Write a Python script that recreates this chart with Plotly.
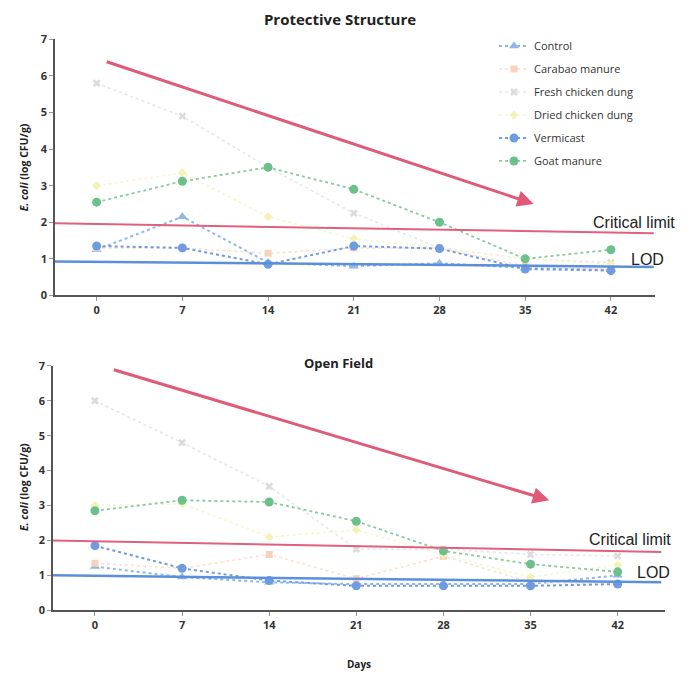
import plotly.graph_objects as go

days = [0, 7, 14, 21, 28, 35, 42]
series_names = ["Control", "Carabao manure", "Fresh chicken dung",
                "Dried chicken dung", "Vermicast", "Goat manure"]

# Protective Structure (top)
control_ps = [1.25, 2.15, 0.9, 0.8, 0.88, 0.75, 0.7]
carabao_ps = [1.3, 1.3, 1.15, 1.3, 1.3, 0.8, 0.7]
fresh_ps = [5.8, 4.9, 3.5, 2.25, 1.3, 1.0, 0.9]
dried_ps = [3.0, 3.35, 2.15, 1.55, 1.3, 1.0, 0.85]
verm_ps = [1.35, 1.3, 0.85, 1.35, 1.28, 0.72, 0.68]
goat_ps = [2.55, 3.12, 3.5, 2.9, 2.0, 1.0, 1.25]

# Open Field (bottom)
control_of = [1.25, 0.95, 0.8, 0.75, 0.75, 0.75, 1.0]
carabao_of = [1.35, 1.2, 1.6, 0.9, 1.55, 0.8, 0.75]
fresh_of = [6.0, 4.8, 3.55, 1.75, 1.75, 1.6, 1.55]
dried_of = [3.0, 3.05, 2.1, 2.3, 1.6, 0.95, 1.3]
verm_of = [1.85, 1.2, 0.85, 0.7, 0.7, 0.7, 0.75]
goat_of = [2.85, 3.15, 3.1, 2.55, 1.7, 1.32, 1.1]

# reference lines (left end, right end)
x_ends = [-3.4, 45.5]
crit_ps = [1.97, 1.70]
lod_ps = [0.93, 0.78]
crit_of = [2.0, 1.67]
lod_of = [1.0, 0.8]
# trend arrows (start day, start value, end day, end value)
arrow_ps = [0.7, 6.4, 35.7, 2.5]
arrow_of = [1.4, 6.9, 36.5, 3.15]

colors = ["#8fb8e8", "#f7d3bd", "#dcdce0", "#f3f3b8", "#6f9be0", "#6cc08a"]
line_colors = ["#8fb8e8", "#f9e0d0", "#e6e6ea", "#f6f6cc", "#6f9be0", "#8cc8a0"]
symbols = ["triangle-up", "square", "x", "diamond", "circle", "circle"]
sizes = [9, 7, 7, 7, 9, 9]
line_w = [2, 1.5, 1.5, 1.5, 2, 1.8]

fig = go.Figure()

panels = [
    ([control_ps, carabao_ps, fresh_ps, dried_ps, verm_ps, goat_ps], "x", "y", True),
    ([control_of, carabao_of, fresh_of, dried_of, verm_of, goat_of], "x2", "y2", False),
]
for data, xa, ya, leg in panels:
    for i, (name, vals) in enumerate(zip(series_names, data)):
        fig.add_trace(go.Scatter(
            x=days, y=vals, name=name, mode="lines+markers",
            line=dict(color=line_colors[i], width=line_w[i], dash="dot"),
            marker=dict(color=colors[i], symbol=symbols[i], size=sizes[i]),
            xaxis=xa, yaxis=ya, showlegend=leg, legendgroup=name,
        ))

for crit, lod, xa, ya in [(crit_ps, lod_ps, "x", "y"), (crit_of, lod_of, "x2", "y2")]:
    fig.add_trace(go.Scatter(x=x_ends, y=crit, mode="lines", showlegend=False,
                             line=dict(color="#e0607e", width=2), xaxis=xa, yaxis=ya))
    fig.add_trace(go.Scatter(x=x_ends, y=lod, mode="lines", showlegend=False,
                             line=dict(color="#5b8fdc", width=2.5), xaxis=xa, yaxis=ya))

annotations = []
for arr, xa, ya in [(arrow_ps, "x", "y"), (arrow_of, "x2", "y2")]:
    annotations.append(dict(x=arr[2], y=arr[3], ax=arr[0], ay=arr[1], xref=xa, yref=ya,
                            axref=xa, ayref=ya, showarrow=True, arrowhead=2, arrowsize=1.1,
                            arrowwidth=3, arrowcolor="#e05a78", text=""))

lab_font = dict(family="Liberation Sans, Arial", size=16, color="#222")
annotations += [
    dict(x=677 / 685, y=1.98, xref="paper", yref="y", text="Critical limit",
         showarrow=False, font=lab_font, xanchor="right", yanchor="middle"),
    dict(x=666 / 685, y=0.99, xref="paper", yref="y", text="LOD",
         showarrow=False, font=lab_font, xanchor="right", yanchor="middle"),
    dict(x=673 / 685, y=2.02, xref="paper", yref="y2", text="Critical limit",
         showarrow=False, font=lab_font, xanchor="right", yanchor="middle"),
    dict(x=672 / 685, y=1.09, xref="paper", yref="y2", text="LOD",
         showarrow=False, font=lab_font, xanchor="right", yanchor="middle"),
]
title_font = dict(family="Open Sans, Liberation Sans", size=15, color="#222", weight="bold")
annotations += [
    dict(x=338 / 685, y=1 - 363 / 673, xref="paper", yref="paper", text="Open Field",
         showarrow=False, font=dict(title_font, size=13), yanchor="middle"),
]
ytitle_font = dict(family="Open Sans, Liberation Sans", size=10.5, color="#222", weight="bold")
for yc in [163, 490]:
    annotations.append(dict(x=15 / 685, y=1 - yc / 673, xref="paper", yref="paper",
                            text="<i>E. coli</i> (log CFU/g)", textangle=-90,
                            showarrow=False, font=ytitle_font, yanchor="middle"))

tick_font = dict(family="Open Sans, Liberation Sans", size=11, color="#333", weight="bold")
xcommon = dict(range=[-3.4, 45.6], tickvals=days, showgrid=False, zeroline=False,
               showline=True, linecolor="#555", linewidth=1.5, ticks="outside", ticklen=4,
               tickcolor="#999", tickfont=tick_font)
ycommon = dict(range=[0, 7], dtick=1, showgrid=False, zeroline=False, showline=True,
               linecolor="#555", linewidth=1.5, ticks="outside", ticklen=4, tickcolor="#999",
               tickfont=tick_font)

fig.update_layout(
    width=685, height=673, margin=dict(l=0, r=0, t=0, b=0),
    paper_bgcolor="white", plot_bgcolor="white",
    title=dict(text="Protective Structure", font=title_font, x=340 / 685, xanchor="center",
               xref="container", yref="container", y=1 - 20 / 673, yanchor="middle"),
    xaxis=dict(xcommon, domain=[55 / 685, 655 / 685], anchor="y"),
    yaxis=dict(ycommon, domain=[1 - 294 / 673, 1 - 32 / 673], anchor="x"),
    xaxis2=dict(xcommon, domain=[53 / 685, 665 / 685], anchor="y2", range=[-3.37, 45.8],
                title=dict(text="Days", font=dict(title_font, size=10), standoff=30)),
    yaxis2=dict(ycommon, domain=[1 - 616 / 673, 1 - 366 / 673], anchor="x2"),
    legend=dict(x=494 / 685, y=1 - 24 / 673, xanchor="left", yanchor="top",
                bgcolor="rgba(0,0,0,0)", itemwidth=30, tracegroupgap=4,
                font=dict(family="Open Sans, Liberation Sans", size=11, color="#333")),
    annotations=annotations,
    showlegend=True,
)

fig.write_html("out.html")
